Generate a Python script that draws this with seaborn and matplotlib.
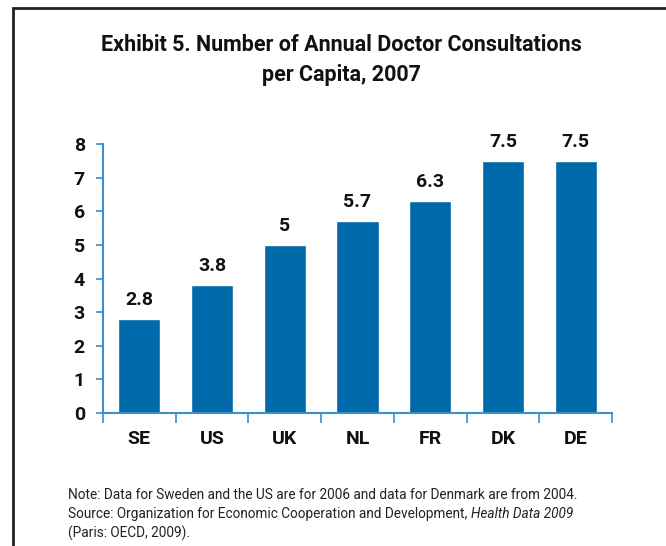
import numpy as np
import pandas as pd
import matplotlib
matplotlib.use("Agg")
import matplotlib.pyplot as plt
import seaborn as sns
from matplotlib.patches import Rectangle

countries = ["SE", "US", "UK", "NL", "FR", "DK", "DE"]
consultations = [2.8, 3.8, 5.0, 5.7, 6.3, 7.5, 7.5]
value_labels = ["2.8", "3.8", "5", "5.7", "6.3", "7.5", "7.5"]
y_ticks = [0, 1, 2, 3, 4, 5, 6, 7, 8]

df = pd.DataFrame({"country": countries, "visits": consultations})

sns.set_theme(style="white")
plt.rcParams["font.family"] = ["Roboto", "DejaVu Sans"]

bar_color = "#0069AA"
axis_color = "#3D8FCC"
text_color = "#111111"

fig = plt.figure(figsize=(6.66, 5.46), dpi=100)
ax = fig.add_axes([103 / 666, 1 - 413 / 546, 509 / 666, 269 / 546])

sns.barplot(data=df, x="country", y="visits", color=bar_color, width=0.58,
            saturation=1, ax=ax)

ax.set_xlim(-0.5, len(countries) - 0.5)
ax.set_ylim(0, 8)
ax.set_yticks(y_ticks)
ax.set_xlabel("")
ax.set_ylabel("")

for s in ["top", "right"]:
    ax.spines[s].set_visible(False)
for s in ["left", "bottom"]:
    ax.spines[s].set_color(axis_color)
    ax.spines[s].set_linewidth(1.5)

# ticks: y ticks outward, x ticks at category boundaries
ax.tick_params(axis="y", direction="out", length=5, width=1.2, color=axis_color,
               left=True, labelsize=14, pad=8)
ax.set_xticks(np.arange(-0.5, len(countries)), minor=True)
ax.tick_params(axis="x", which="major", length=0, labelsize=14, pad=12)
ax.tick_params(axis="x", which="minor", direction="out", length=7, width=1.2,
               color=axis_color, bottom=True)
for lbl in ax.get_xticklabels() + ax.get_yticklabels():
    lbl.set_fontweight("bold")
    lbl.set_color(text_color)

# value labels above the bars
for i, (v, t) in enumerate(zip(consultations, value_labels)):
    ax.text(i, v + 0.3, t, ha="center", va="bottom", fontsize=14,
            fontweight="bold", color=text_color)

# title
fig.text(341 / 666, 1 - 45 / 546, "Exhibit 5. Number of Annual Doctor Consultations",
         ha="center", va="center", fontsize=15.5, fontweight="bold", color=text_color)
fig.text(341 / 666, 1 - 75 / 546, "per Capita, 2007",
         ha="center", va="center", fontsize=15.5, fontweight="bold", color=text_color)

# notes
note_size = 9.8
note_color = "#222222"
fig.text(68 / 666, 1 - 495 / 546,
         "Note: Data for Sweden and the US are for 2006 and data for Denmark are from 2004.",
         ha="left", va="center", fontsize=note_size, color=note_color)
t1 = fig.text(68 / 666, 1 - 514 / 546,
              "Source: Organization for Economic Cooperation and Development, ",
              ha="left", va="center", fontsize=note_size, color=note_color)
fig.canvas.draw()
bb = t1.get_window_extent()
fig.text(bb.x1 / fig.bbox.width, 1 - 514 / 546, "Health Data 2009",
         ha="left", va="center", fontsize=note_size, color=note_color, style="italic")
fig.text(68 / 666, 1 - 533 / 546, "(Paris: OECD, 2009).",
         ha="left", va="center", fontsize=note_size, color=note_color)

# frame around the exhibit (runs off the right and bottom edges)
fig.patches.append(Rectangle((13 / 666, -0.05), 1.0, 1 - 8 / 546 + 0.05,
                             transform=fig.transFigure, fill=False,
                             edgecolor="#222222", linewidth=2))

fig.savefig("out.png", dpi=100)
